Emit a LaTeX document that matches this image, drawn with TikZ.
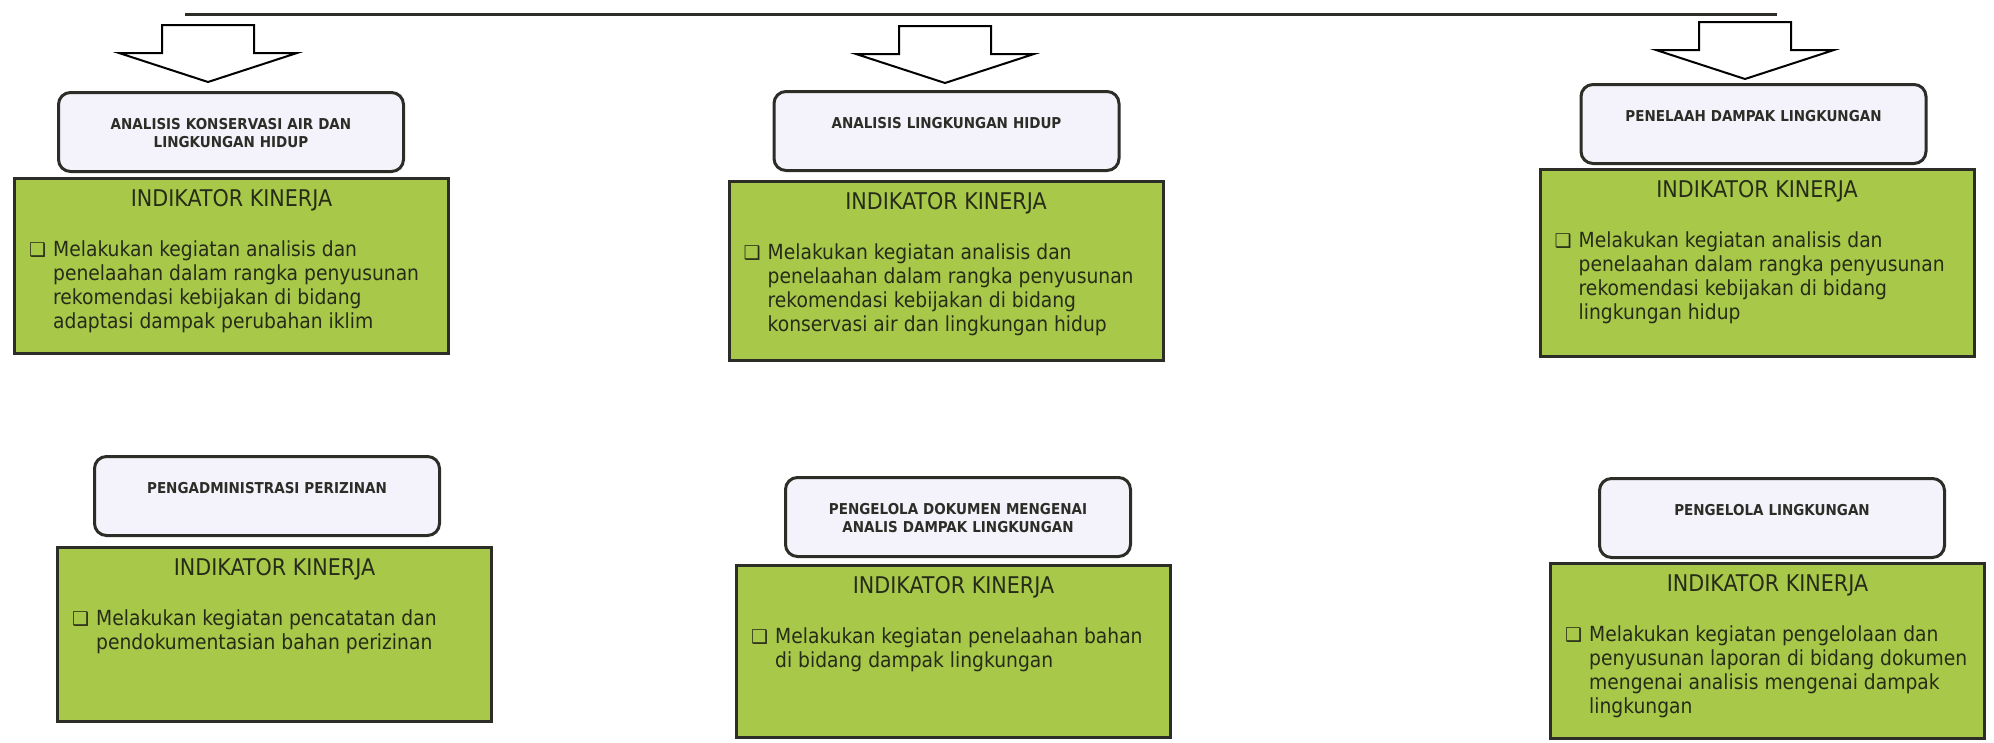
\documentclass[tikz,border=0pt]{standalone}
\usepackage{fontspec}
\setmainfont{DejaVu Sans Condensed}
\newfontfamily\simbol{DejaVu Sans}
\definecolor{daun}{RGB}{168,200,74}
\definecolor{lembut}{RGB}{244,242,250}
\definecolor{garis}{RGB}{45,45,40}
\definecolor{tulisan}{RGB}{38,44,24}
\tikzset{
  jabatan/.style   = {shape=rectangle, rounded corners=12pt, draw=garis,
                      line width=3pt, fill=lembut,
                      minimum width=345pt, minimum height=79pt},
  indikator/.style = {shape=rectangle, draw=garis, line width=3pt,
                      fill=daun, minimum width=434pt},
  namajab/.style   = {text width=330pt, align=center, anchor=base,
                      inner sep=0pt, text=garis,
                      font=\bfseries\fontsize{15}{18}\selectfont},
  judul/.style     = {anchor=base, inner sep=0pt, text=tulisan,
                      font=\fontsize{23}{26}\selectfont},
  uraian/.style    = {anchor=base west, inner sep=0pt, text=tulisan,
                      font=\fontsize{20.8}{24}\selectfont},
  panah/.style     = {draw=black, line width=2pt, fill=white, line join=miter}
}
\newcommand{\butir}[1]{\makebox[24pt][l]{\simbol\fontsize{19}{19}\selectfont ❑}%
  \begin{tabular}[t]{@{}l@{}}#1\end{tabular}}

\begin{document}
\begin{tikzpicture}[x=1pt,y=-1pt]
 \useasboundingbox (0,0) rectangle (1994,742);

 % garis atas
 \coordinate (kiri) at (185,14);
 \coordinate (kanan) at (1777,14);
 \draw[line width=3pt, draw=garis] (kiri) -- (kanan);

 % panah ke bawah
 \coordinate (ujung1) at (208,82);
 \coordinate (ujung2) at (945,83);
 \coordinate (ujung3) at (1745,79);
 \draw[panah] (ujung1) -- +(-89,-29) -- +(-46,-29) -- +(-46,-57)
   -- +(46,-57) -- +(46,-29) -- +(89,-29) -- cycle;
 \draw[panah] (ujung2) -- +(-89,-29) -- +(-46,-29) -- +(-46,-57)
   -- +(46,-57) -- +(46,-29) -- +(89,-29) -- cycle;
 \draw[panah] (ujung3) -- +(-89,-29) -- +(-46,-29) -- +(-46,-57)
   -- +(46,-57) -- +(46,-29) -- +(89,-29) -- cycle;

 % baris atas
 \node[jabatan] (jab1) at (231,132) {};
 \node[namajab] (nama1) at ([yshift=-38pt]jab1.north)
   {ANALISIS KONSERVASI AIR DAN\\LINGKUNGAN HIDUP};
 \node[indikator, minimum height=175pt] (ind1) at (231.5,266) {};
 \node[judul] (jud1) at ([yshift=-29pt]ind1.north) {INDIKATOR KINERJA};
 \node[uraian] (isi1) at ([xshift=16pt,yshift=-79pt]ind1.north west)
   {\butir{Melakukan kegiatan analisis dan\\penelaahan dalam rangka penyusunan\\
    rekomendasi kebijakan di bidang\\adaptasi dampak perubahan iklim}};

 \node[jabatan] (jab2) at (946.5,131) {};
 \node[namajab] (nama2) at ([yshift=-38pt]jab2.north)
   {ANALISIS LINGKUNGAN HIDUP};
 \node[indikator, minimum height=179pt] (ind2) at (946,271) {};
 \node[judul] (jud2) at ([yshift=-29pt]ind2.north) {INDIKATOR KINERJA};
 \node[uraian] (isi2) at ([xshift=16pt,yshift=-79pt]ind2.north west)
   {\butir{Melakukan kegiatan analisis dan\\penelaahan dalam rangka penyusunan\\
    rekomendasi kebijakan di bidang\\konservasi air dan lingkungan hidup}};

 \node[jabatan] (jab3) at (1753.5,124) {};
 \node[namajab] (nama3) at ([yshift=-38pt]jab3.north)
   {PENELAAH DAMPAK LINGKUNGAN};
 \node[indikator, minimum height=187pt] (ind3) at (1757,263) {};
 \node[judul] (jud3) at ([yshift=-29pt]ind3.north) {INDIKATOR KINERJA};
 \node[uraian] (isi3) at ([xshift=16pt,yshift=-79pt]ind3.north west)
   {\butir{Melakukan kegiatan analisis dan\\penelaahan dalam rangka penyusunan\\
    rekomendasi kebijakan di bidang\\lingkungan hidup}};

 % baris bawah
 \node[jabatan] (jab4) at (267,496) {};
 \node[namajab] (nama4) at ([yshift=-38pt]jab4.north)
   {PENGADMINISTRASI PERIZINAN};
 \node[indikator, minimum height=174pt] (ind4) at (274.5,634.5) {};
 \node[judul] (jud4) at ([yshift=-29pt]ind4.north) {INDIKATOR KINERJA};
 \node[uraian] (isi4) at ([xshift=16pt,yshift=-79pt]ind4.north west)
   {\butir{Melakukan kegiatan pencatatan dan\\pendokumentasian bahan perizinan}};

 \node[jabatan] (jab5) at (958,517) {};
 \node[namajab] (nama5) at ([yshift=-38pt]jab5.north)
   {PENGELOLA DOKUMEN MENGENAI\\ANALIS DAMPAK LINGKUNGAN};
 \node[indikator, minimum height=172pt] (ind5) at (953.5,651.5) {};
 \node[judul] (jud5) at ([yshift=-29pt]ind5.north) {INDIKATOR KINERJA};
 \node[uraian] (isi5) at ([xshift=16pt,yshift=-79pt]ind5.north west)
   {\butir{Melakukan kegiatan penelaahan bahan\\di bidang dampak lingkungan}};

 \node[jabatan] (jab6) at (1772,518) {};
 \node[namajab] (nama6) at ([yshift=-38pt]jab6.north)
   {PENGELOLA LINGKUNGAN};
 \node[indikator, minimum height=175pt] (ind6) at (1767.5,651) {};
 \node[judul] (jud6) at ([yshift=-29pt]ind6.north) {INDIKATOR KINERJA};
 \node[uraian] (isi6) at ([xshift=16pt,yshift=-79pt]ind6.north west)
   {\butir{Melakukan kegiatan pengelolaan dan\\penyusunan laporan di bidang dokumen\\
    mengenai analisis mengenai dampak\\lingkungan}};
\end{tikzpicture}
\end{document}
